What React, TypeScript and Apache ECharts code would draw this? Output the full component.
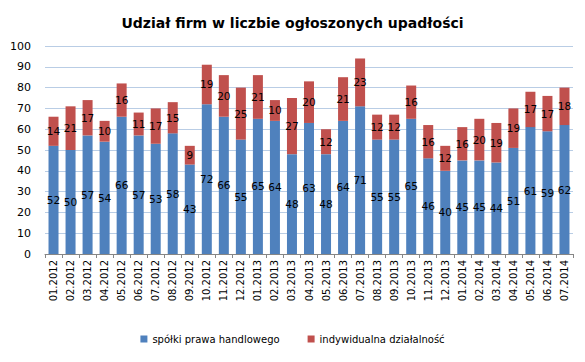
import React, { useEffect, useRef } from "react";
import * as echarts from "echarts";

const categories = [
  "01.2012", "02.2012", "03.2012", "04.2012", "05.2012", "06.2012", "07.2012", "08.2012", "09.2012", "10.2012", "11.2012", "12.2012",
  "01.2013", "02.2013", "03.2013", "04.2013", "05.2013", "06.2013", "07.2013", "08.2013", "09.2013", "10.2013", "11.2013", "12.2013",
  "01.2014", "02.2014", "03.2014", "04.2014", "05.2014", "06.2014", "07.2014",
];
const spolki = [52, 50, 57, 54, 66, 57, 53, 58, 43, 72, 66, 55, 65, 64, 48, 63, 48, 64, 71, 55, 55, 65, 46, 40, 45, 45, 44, 51, 61, 59, 62];
const indywidualna = [14, 21, 17, 10, 16, 11, 17, 15, 9, 19, 20, 25, 21, 10, 27, 20, 12, 21, 23, 12, 12, 16, 16, 12, 16, 20, 19, 19, 17, 17, 18];
const seriesNames = ["spółki prawa handlowego", "indywidualna działalność"];
const title = "Udział firm w liczbie ogłoszonych upadłości";

const FONT = "DejaVu Sans";

export default function App() {
  const ref = useRef<HTMLDivElement>(null);
  useEffect(() => {
    if (!ref.current) return;
    const chart = echarts.init(ref.current, undefined, { renderer: "svg" });
    const label = {
      show: true,
      position: "inside" as const,
      color: "#000",
      fontFamily: FONT,
      fontSize: 10.5,
    };
    chart.setOption({
      animation: false,
      backgroundColor: "#fff",
      title: {
        text: title,
        left: "center",
        top: 11,
        textStyle: { fontFamily: FONT, fontSize: 14, fontWeight: "bold", color: "#000" },
      },
      legend: {
        bottom: 13,
        left: "center",
        itemWidth: 7,
        itemHeight: 7,
        itemGap: 28,
        icon: "rect",
        textStyle: { fontFamily: FONT, fontSize: 10, color: "#000" },
        data: seriesNames,
      },
      grid: { left: 45, right: 12, top: 46, bottom: 108 },
      xAxis: {
        type: "category",
        data: categories,
        axisLine: { lineStyle: { color: "#868686" } },
        axisTick: { show: true, length: 4, lineStyle: { color: "#868686" } },
        axisLabel: {
          rotate: 90,
          interval: 0,
          fontFamily: FONT,
          fontSize: 10,
          color: "#000",
          margin: 6,
        },
      },
      yAxis: {
        type: "value",
        min: 0,
        max: 100,
        interval: 10,
        axisLine: { show: false },
        axisTick: { show: false },
        axisLabel: { fontFamily: FONT, fontSize: 11, color: "#000", margin: 14 },
        splitLine: { lineStyle: { color: "#b9cde5" } },
      },
      series: [
        {
          name: seriesNames[0],
          type: "bar",
          stack: "a",
          data: spolki,
          barWidth: 10,
          itemStyle: { color: "#4f81bd" },
          label,
        },
        {
          name: seriesNames[1],
          type: "bar",
          stack: "a",
          data: indywidualna,
          barWidth: 10,
          itemStyle: { color: "#c0504d" },
          label,
        },
      ],
    });
    return () => chart.dispose();
  }, []);
  return (
    <div
      ref={ref}
      style={{ position: "fixed", left: 0, top: 0, width: 585, height: 362 }}
    />
  );
}
